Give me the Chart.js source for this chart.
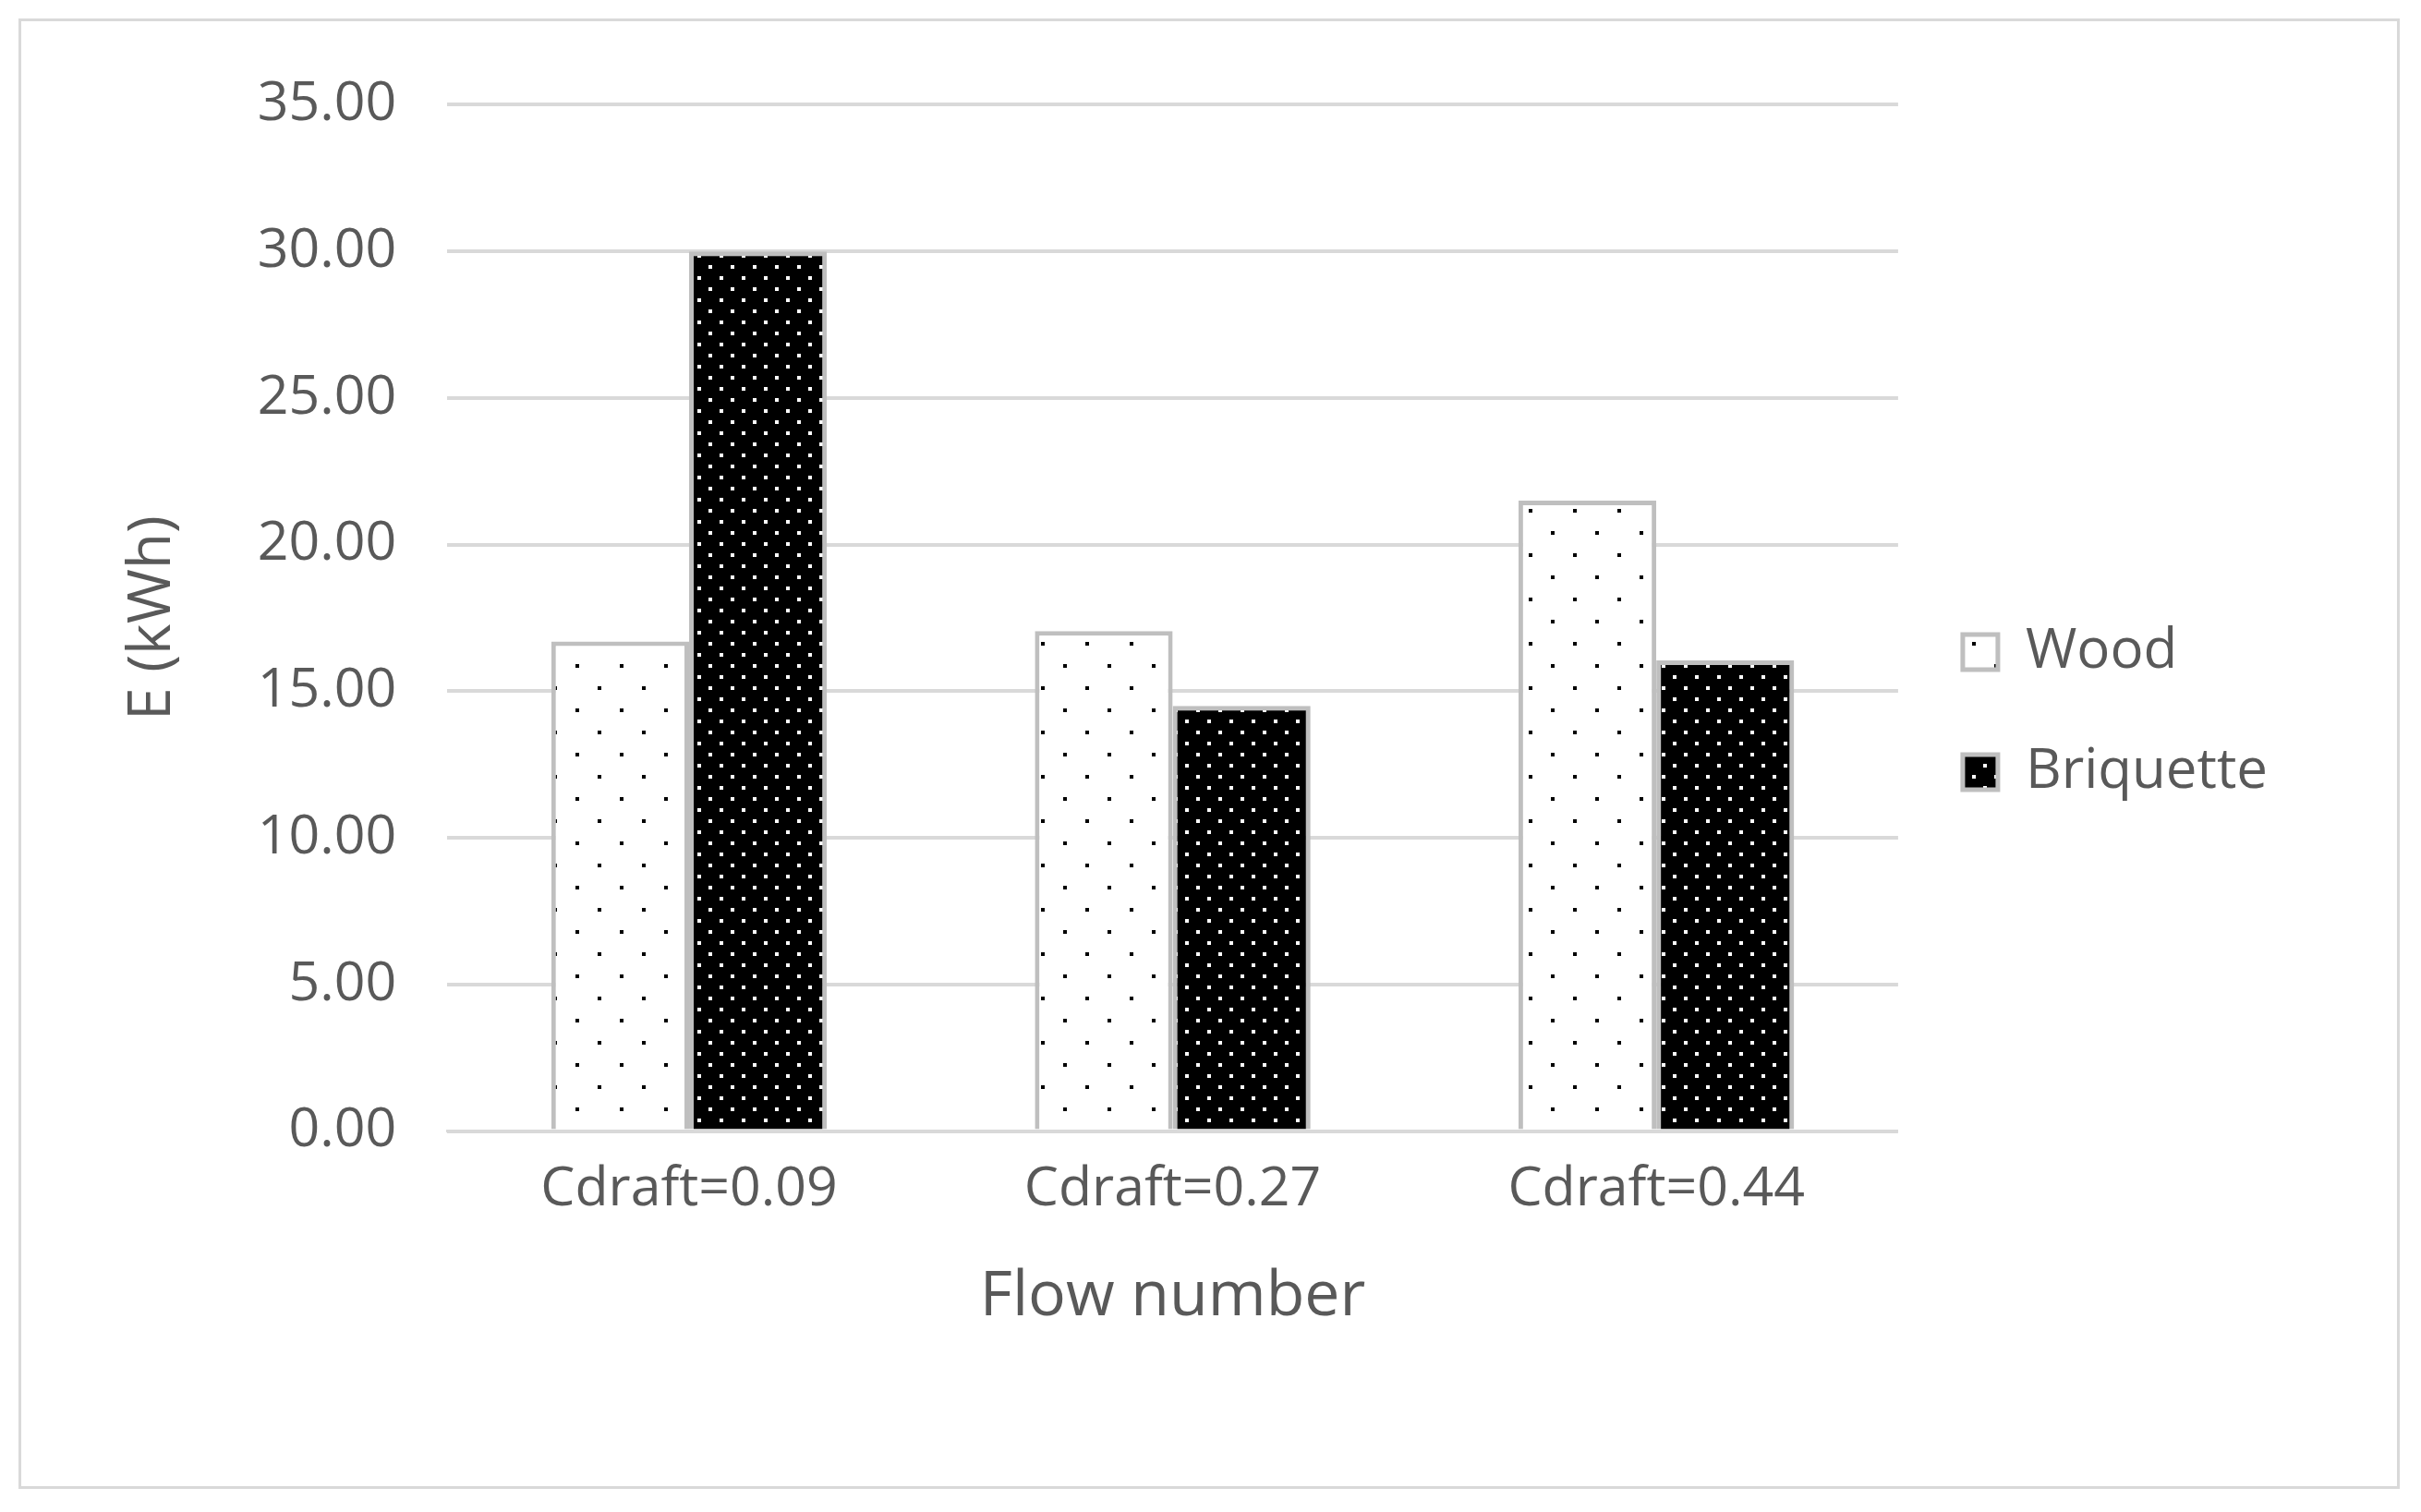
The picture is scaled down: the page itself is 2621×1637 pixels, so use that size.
<!DOCTYPE html>
<html><head><meta charset="utf-8">
<script src="https://cdn.jsdelivr.net/npm/chart.js@4"></script>
<style>
body{margin:0;background:#fff;}
#box{position:absolute;left:20px;top:20px;width:2578px;height:1592px;border:3px solid #d9d9d9;box-sizing:border-box;}
#c{position:absolute;left:0;top:0;}
</style></head><body>
<div id="box"><canvas id="c" width="2572" height="1586"></canvas></div>
<script>
const categories = ["Cdraft=0.09", "Cdraft=0.27", "Cdraft=0.44"];
const woodValues = [16.7, 17.05, 21.5];
const briquetteValues = [30.0, 14.5, 16.05];
const yTicks = [0, 5, 10, 15, 20, 25, 30, 35];

// dotted fills
function dots(bg, fg, step) {
  const p = document.createElement("canvas");
  p.width = step; p.height = step;
  const g = p.getContext("2d");
  g.fillStyle = bg; g.fillRect(0, 0, step, step);
  g.fillStyle = fg;
  g.fillRect(0, 0, 4, 4);
  g.fillRect(step/2, step/2, 4, 4);
  return g.createPattern(p, "repeat");
}
const ctx = document.getElementById("c").getContext("2d");
const woodFill = dots("#ffffff", "#000000", 48);
const briqFill = dots("#000000", "#ffffff", 24);

const txt = "#595959";
new Chart(ctx, {
  type: "bar",
  data: {
    labels: categories,
    datasets: [
      {label: "Wood", data: woodValues, backgroundColor: woodFill, borderColor: "#bfbfbf", borderWidth: 5, borderSkipped: "bottom"},
      {label: "Briquette", data: briquetteValues, backgroundColor: briqFill, borderColor: "#bfbfbf", borderWidth: 5, borderSkipped: "bottom"}
    ]
  },
  options: {
    responsive: false,
    animation: false,
    categoryPercentage: 0.57,
    barPercentage: 1,
    layout: {padding: {top: 70, right: 130, left: 100, bottom: 160}},
    scales: {
      x: {
        grid: {display: false},
        border: {color: "#d9d9d9", width: 3},
        ticks: {color: txt, font: {family: "Open Sans", size: 59}, padding: 20},
        title: {display: true, text: "Flow number", color: txt, font: {family: "Open Sans", size: 68}, padding: {top: 20}}
      },
      y: {
        min: 0, max: 35,
        afterBuildTicks: s => { s.ticks = yTicks.map(v => ({value: v})); },
        grid: {color: "#d9d9d9", lineWidth: 4, drawTicks: false},
        border: {display: false},
        ticks: {color: txt, font: {family: "Open Sans", size: 59}, padding: 55, callback: v => v.toFixed(2)},
        title: {display: true, text: "E (kWh)", color: txt, font: {family: "Open Sans", size: 64}, padding: {bottom: 20}}
      }
    },
    plugins: {
      legend: {
        position: "right",
        labels: {color: txt, font: {family: "Open Sans", size: 60}, boxWidth: 38, boxHeight: 38, padding: 70}
      },
      tooltip: {enabled: false}
    }
  }
});
</script>
</body></html>
